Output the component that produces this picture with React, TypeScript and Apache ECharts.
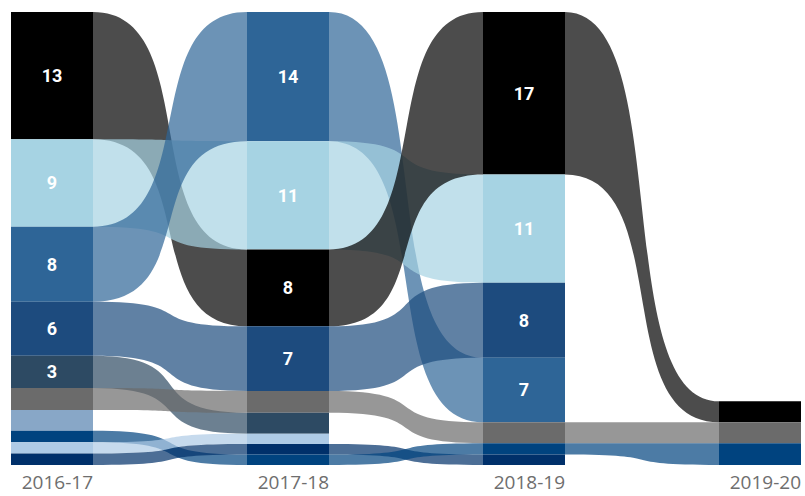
import React, { useEffect, useRef } from "react";
import * as echarts from "echarts";

// Column (year) labels
const years = ["2016-17", "2017-18", "2018-19", "2019-20"];

// One colour per group (the same group keeps its colour across years)
const groupColors = [
  "#000000", // group 0
  "#a6d3e3", // group 1
  "#2e6597", // group 2
  "#1d4b7e", // group 3
  "#2d4a63", // group 4
  "#6b6b6b", // group 5
  "#88a7c7", // group 6
  "#00437f", // group 7
  "#aecbe6", // group 8
  "#00306a", // group 9
];

// Values per group for each year (null = group absent that year)
const values2016 = [13.4, 9.2, 7.9, 5.7, 3.4, 2.3, 2.2, 1.2, 1.2, 1.2];
const values2017 = [8.1, 11.4, 13.6, 6.8, 2.2, 2.3, null, 1.1, 1.1, 1.1];
const values2018 = [17.1, 11.4, 6.8, 7.9, null, 2.2, null, 1.2, null, 1.1];
const values2019 = [2.2, null, null, null, null, 2.2, null, 2.3, null, null];

// Top-to-bottom order of groups in each year's column
const order2016 = [0, 1, 2, 3, 4, 5, 6, 7, 8, 9];
const order2017 = [2, 1, 0, 3, 5, 4, 8, 9, 7];
const order2018 = [0, 1, 3, 2, 5, 7, 9];
const order2019 = [0, 5, 7];

const valuesByYear: (number | null)[][] = [values2016, values2017, values2018, values2019];
const ordersByYear: number[][] = [order2016, order2017, order2018, order2019];

const LABEL_MIN = 3;
const NODE_WIDTH = 82;
const FLOW_OPACITY = 0.7;
const CURVE = 0.72;

function buildLayout() {
  const colSums = ordersByYear.map((ord, y) =>
    ord.reduce((s, g) => s + (valuesByYear[y][g] as number), 0)
  );
  const total = Math.max(...colSums);
  const pos: Record<number, [number, number]>[] = valuesByYear.map(() => ({}));
  const nodes: number[][] = [];
  ordersByYear.forEach((ord, y) => {
    let acc = total - colSums[y];
    ord.forEach((g) => {
      const v = valuesByYear[y][g] as number;
      pos[y][g] = [acc, acc + v];
      nodes.push([y, acc, acc + v, g, v]);
      acc += v;
    });
  });
  const flows: number[][] = [];
  for (let y = 0; y < years.length - 1; y++) {
    ordersByYear[y].forEach((g) => {
      const a = pos[y][g];
      const b = pos[y + 1][g];
      if (a && b) flows.push([y, a[0], a[1], b[0], b[1], g]);
    });
  }
  return { total, nodes, flows };
}

export default function App() {
  const ref = useRef<HTMLDivElement>(null);

  useEffect(() => {
    if (!ref.current) return;
    const chart = echarts.init(ref.current, undefined, { renderer: "svg" });
    const { total, nodes, flows } = buildLayout();

    chart.setOption({
      animation: false,
      backgroundColor: "#ffffff",
      grid: { left: 93, right: 4, top: 12, bottom: 31 },
      xAxis: {
        type: "value",
        min: 0,
        max: years.length - 1,
        interval: 1,
        axisLine: { show: false },
        axisTick: { show: false },
        splitLine: { show: false },
        axisLabel: {
          formatter: (v: number) => years[v] ?? "",
          align: "right",
          margin: 7,
          lineHeight: 19,
          color: "#6e6e6e",
          fontFamily: "Open Sans",
          fontSize: 19,
        },
      },
      yAxis: {
        type: "value",
        min: 0,
        max: total,
        inverse: true,
        show: false,
      },
      series: [
        {
          type: "custom",
          name: "flows",
          clip: false,
          silent: true,
          data: flows,
          renderItem: (_params: any, api: any) => {
            const col = api.value(0);
            const g = api.value(5);
            const p0t = api.coord([col, api.value(1)]);
            const p0b = api.coord([col, api.value(2)]);
            const p1t = api.coord([col + 1, api.value(3)]);
            const p1b = api.coord([col + 1, api.value(4)]);
            const x0 = p0t[0];
            const x1 = p1t[0] - NODE_WIDTH;
            const dx = x1 - x0;
            const c0 = x0 + dx * CURVE;
            const c1 = x1 - dx * CURVE;
            const d =
              `M${x0},${p0t[1]} C${c0},${p0t[1]} ${c1},${p1t[1]} ${x1},${p1t[1]} ` +
              `L${x1},${p1b[1]} C${c1},${p1b[1]} ${c0},${p0b[1]} ${x0},${p0b[1]} Z`;
            return {
              type: "path",
              shape: { pathData: d },
              style: { fill: groupColors[g], opacity: FLOW_OPACITY },
            };
          },
        },
        {
          type: "custom",
          name: "nodes",
          clip: false,
          silent: true,
          data: nodes,
          renderItem: (_params: any, api: any) => {
            const col = api.value(0);
            const g = api.value(3);
            const v = api.value(4);
            const pt = api.coord([col, api.value(1)]);
            const pb = api.coord([col, api.value(2)]);
            const children: any[] = [
              {
                type: "rect",
                shape: { x: pt[0] - NODE_WIDTH, y: pt[1], width: NODE_WIDTH, height: pb[1] - pt[1] },
                style: { fill: groupColors[g] },
              },
            ];
            if (v >= LABEL_MIN) {
              children.push({
                type: "text",
                style: {
                  text: String(Math.round(v)),
                  x: pt[0] - NODE_WIDTH / 2,
                  y: (pt[1] + pb[1]) / 2,
                  align: "center",
                  verticalAlign: "middle",
                  fill: "#ffffff",
                  fontFamily: "Roboto",
                  fontWeight: "bold",
                  fontSize: 18,
                },
              });
            }
            return { type: "group", children };
          },
        },
      ],
    });

    return () => chart.dispose();
  }, []);

  return (
    <div
      ref={ref}
      style={{ position: "fixed", left: 0, top: 0, width: 805, height: 496 }}
    />
  );
}
